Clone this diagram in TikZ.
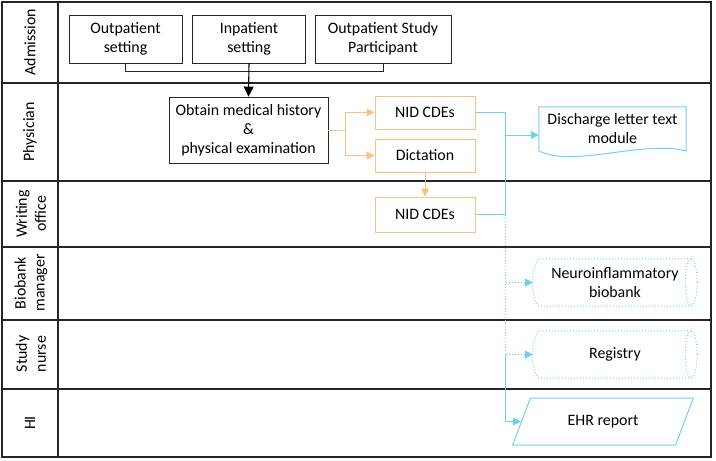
\documentclass[tikz,border=0pt]{standalone}
\usepackage{fontspec}
\setmainfont{Carlito}
\usetikzlibrary{arrows.meta}
\usetikzlibrary{positioning}
\usetikzlibrary{shapes.geometric}

\definecolor{flowOrange}{RGB}{248,194,128}
\definecolor{flowBlue}{RGB}{112,208,242}

\begin{document}
\begin{tikzpicture}[x=1pt,y=-1pt,
    font=\fontsize{15.9}{19}\selectfont,
    box/.style={draw=black!85, line width=0.9pt, align=center, inner sep=2pt},
    obox/.style={draw=flowOrange, line width=1pt, align=center, minimum width=100pt, minimum height=33pt},
    oline/.style={draw=flowOrange, line width=1pt},
    bline/.style={draw=flowBlue, line width=1pt},
    tip/.style={-{Triangle[length=8pt,width=8pt]}},
    store/.style={minimum width=164pt, minimum height=47pt, align=center}]
      % Fix the page size
      \useasboundingbox (0,0) rectangle (716,461);

      % Swim lanes
      \draw[line width=1.2pt, black!85] (2,2) rectangle (711,457);
      \draw[line width=1.2pt, black!85] (58,2) -- (58,457);
      \foreach \y in {83,181,247,320,389}
        \draw[line width=1.2pt, black!85] (2,\y) -- (711,\y);

      % Lane titles
      \node[rotate=90] (labAdm) at (30,42) {Admission};
      \node[rotate=90] (labPhy) at (30,132) {Physician};
      \node[rotate=90, align=center] (labWri) at (31,214) {Writing\\office};
      \node[rotate=90, align=center] (labBio) at (31,283) {Biobank\\manager};
      \node[rotate=90, align=center] (labNur) at (31,354) {Study\\nurse};
      \node[rotate=90] (labHI) at (30,423) {HI};

      % Admission
      \node[box, minimum width=113pt, minimum height=48pt] (outpat) at (125.5,39) {Outpatient\\setting};
      \node[box, minimum width=113pt, minimum height=48pt] (inpat) at (249,39) {Inpatient\\setting};
      \node[box, minimum width=136pt, minimum height=48pt] (study) at (383,39) {Outpatient Study\\Participant};
      \draw[line width=0.9pt, black!85] (outpat.south) -- ++(0,8) -| (study.south);

      % Physician
      \node[box, minimum width=159pt, minimum height=66pt] (obtain) at (248.5,130) {Obtain medical history\\\&\\physical examination};
      \draw[line width=1.1pt, -{Triangle[length=10pt,width=10pt]}] (inpat.south) -- (obtain.north);

      \node[obox] (nid1) at (425,112.5) {NID CDEs};
      \node[obox] (dict) at (425,155.5) {Dictation};
      \node[obox, minimum height=35pt] (nid2) at (425,214.5) {NID CDEs};
      \draw[oline] (obtain.east) -- ++(17,0) coordinate (ofork);
      \draw[oline, tip] (ofork) |- (nid1.west);
      \draw[oline, tip] (ofork) |- (dict.west);
      \draw[oline, tip] (dict.south) -- (nid2.north);

      % Outputs
      \node[minimum width=147pt, minimum height=44pt, align=center] (doc) at (612.5,129) {Discharge letter text\\module};
      \draw[bline] (doc.north west) -- (doc.north east) -- ++(0,44)
        .. controls (640,140) and (575,168) .. (539,151) -- cycle;
      \node[store] (bio) at (615,282.5) {Neuroinflammatory\\biobank};
      \node[store] (reg) at (615,354.5) {Registry};
      \foreach \s in {bio,reg} {
        \draw[bline, dotted] ([xshift=-6pt]\s.north east) -- ([xshift=8pt]\s.north west)
          .. controls +(-11,0) and +(-11,0) .. ([xshift=8pt]\s.south west)
          -- ([xshift=-6pt]\s.south east);
        \draw[bline, dotted] ([xshift=-6pt]\s.east) ellipse [x radius=6, y radius=23.5];
      }
      \node[draw=flowBlue, line width=1pt, trapezium, trapezium stretches,
        trapezium left angle=64, trapezium right angle=116,
        minimum width=182pt, minimum height=47pt] (ehr) at (603,421.5) {EHR report};

      % Blue connectors
      \coordinate (bjoin) at (505,214.5);
      \coordinate (bdoc) at (505,135);
      \draw[bline] (nid1.east) -| (bjoin);
      \draw[bline] (nid2.east) -- (bjoin);
      \draw[bline, tip] (bdoc) -- (bdoc -| doc.west);
      \draw[bline, dotted, tip] (bjoin) |- (bio.west);
      \draw[bline, dotted, tip] (bjoin) |- (reg.west);
      \draw[bline, tip] (reg.west -| bjoin) |- (ehr);
    \end{tikzpicture}
\end{document}
